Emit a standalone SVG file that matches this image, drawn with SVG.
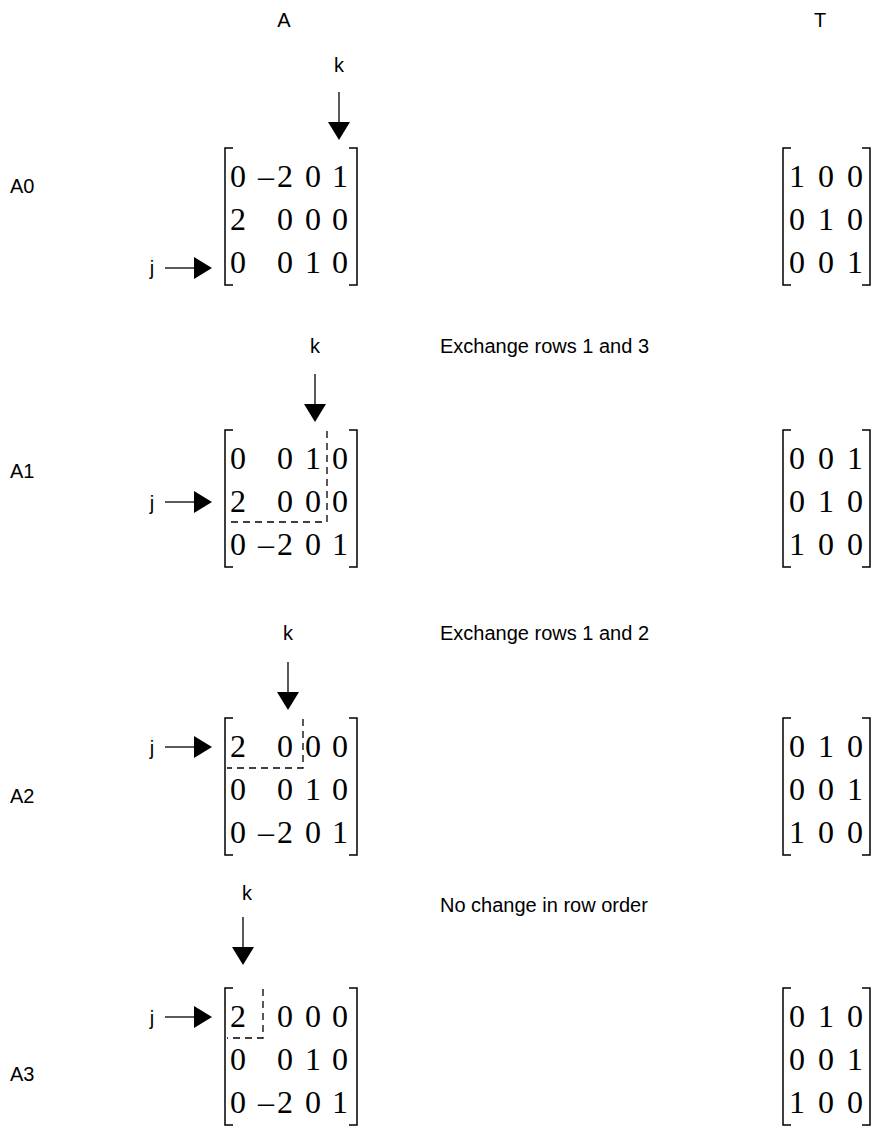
<svg xmlns="http://www.w3.org/2000/svg" width="874" height="1142" viewBox="0 0 874 1142">
<style>
.lbl{font-family:"Liberation Sans",Arial,sans-serif;font-size:20px;fill:#000}
.m{font-family:"Liberation Serif","Times New Roman",serif;font-size:32px;fill:#000;text-anchor:middle}
.br{fill:none;stroke:#000;stroke-width:1.5}
.ln{fill:none;stroke:#000;stroke-width:1.3}
.ds{fill:none;stroke:#000;stroke-width:1.3;stroke-dasharray:7,5}
.ah{fill:#000}
</style>
<defs>
<g id="brA"><path class="br" d="M233,0 H225 V137 H233"/><path class="br" d="M349,0 H357 V137 H349"/></g>
<g id="brT"><path class="br" d="M791,0 H783 V137 H791"/><path class="br" d="M862,0 H870 V137 H862"/></g>
<g id="kdown"><line class="ln" x1="0" y1="0" x2="0" y2="32"/><polygon class="ah" points="-11,30 11,30 0,48"/></g>
<g id="jright"><line class="ln" x1="0" y1="0" x2="32" y2="0"/><polygon class="ah" points="29,-11 29,11 47,0"/></g>
</defs>

<g id="headers">
<text class="lbl" x="284" y="27" text-anchor="middle">A</text>
<text class="lbl" x="820" y="27" text-anchor="middle">T</text>
</g>

<!-- A0 -->
<g id="A0">
<text class="lbl" x="10" y="193">A0</text>
<text class="lbl" x="339" y="72" text-anchor="middle">k</text>
<use href="#brA" y="148"/>
<text class="m" y="187"><tspan x="238">0</tspan><tspan x="266">–</tspan><tspan x="285">2</tspan><tspan x="313">0</tspan><tspan x="340">1</tspan></text>
<text class="m" y="230"><tspan x="238">2</tspan><tspan x="285">0</tspan><tspan x="313">0</tspan><tspan x="340">0</tspan></text>
<text class="m" y="273"><tspan x="238">0</tspan><tspan x="285">0</tspan><tspan x="313">1</tspan><tspan x="340">0</tspan></text>
<text class="lbl" x="152" y="275" text-anchor="middle">j</text>
</g>
<g id="T0">
<use href="#brT" y="148"/>
<text class="m" y="187"><tspan x="797">1</tspan><tspan x="826">0</tspan><tspan x="855">0</tspan></text>
<text class="m" y="230"><tspan x="797">0</tspan><tspan x="826">1</tspan><tspan x="855">0</tspan></text>
<text class="m" y="273"><tspan x="797">0</tspan><tspan x="826">0</tspan><tspan x="855">1</tspan></text>
</g>

<!-- A1 -->
<g id="A1">
<text class="lbl" x="10" y="478">A1</text>
<text class="lbl" x="315" y="353" text-anchor="middle">k</text>
<text class="lbl" x="440" y="353">Exchange rows 1 and 3</text>
<use href="#brA" y="430"/>
<text class="m" y="469"><tspan x="238">0</tspan><tspan x="285">0</tspan><tspan x="313">1</tspan><tspan x="340">0</tspan></text>
<text class="m" y="512"><tspan x="238">2</tspan><tspan x="285">0</tspan><tspan x="313">0</tspan><tspan x="340">0</tspan></text>
<text class="m" y="555"><tspan x="238">0</tspan><tspan x="266">–</tspan><tspan x="285">2</tspan><tspan x="313">0</tspan><tspan x="340">1</tspan></text>
<text class="lbl" x="152" y="510" text-anchor="middle">j</text>
<path class="ds" d="M327,431 V522 H227"/>
</g>
<g id="T1">
<use href="#brT" y="430"/>
<text class="m" y="469"><tspan x="797">0</tspan><tspan x="826">0</tspan><tspan x="855">1</tspan></text>
<text class="m" y="512"><tspan x="797">0</tspan><tspan x="826">1</tspan><tspan x="855">0</tspan></text>
<text class="m" y="555"><tspan x="797">1</tspan><tspan x="826">0</tspan><tspan x="855">0</tspan></text>
</g>

<!-- A2 -->
<g id="A2">
<text class="lbl" x="10" y="803">A2</text>
<text class="lbl" x="288" y="640" text-anchor="middle">k</text>
<text class="lbl" x="440" y="640">Exchange rows 1 and 2</text>
<use href="#brA" y="718"/>
<text class="m" y="757"><tspan x="238">2</tspan><tspan x="285">0</tspan><tspan x="313">0</tspan><tspan x="340">0</tspan></text>
<text class="m" y="800"><tspan x="238">0</tspan><tspan x="285">0</tspan><tspan x="313">1</tspan><tspan x="340">0</tspan></text>
<text class="m" y="843"><tspan x="238">0</tspan><tspan x="266">–</tspan><tspan x="285">2</tspan><tspan x="313">0</tspan><tspan x="340">1</tspan></text>
<text class="lbl" x="152" y="755" text-anchor="middle">j</text>
<path class="ds" d="M303,719 V768 H227"/>
</g>
<g id="T2">
<use href="#brT" y="718"/>
<text class="m" y="757"><tspan x="797">0</tspan><tspan x="826">1</tspan><tspan x="855">0</tspan></text>
<text class="m" y="800"><tspan x="797">0</tspan><tspan x="826">0</tspan><tspan x="855">1</tspan></text>
<text class="m" y="843"><tspan x="797">1</tspan><tspan x="826">0</tspan><tspan x="855">0</tspan></text>
</g>

<!-- A3 -->
<g id="A3">
<text class="lbl" x="10" y="1081">A3</text>
<text class="lbl" x="247" y="900" text-anchor="middle">k</text>
<text class="lbl" x="440" y="912">No change in row order</text>
<use href="#brA" y="988"/>
<text class="m" y="1027"><tspan x="238">2</tspan><tspan x="285">0</tspan><tspan x="313">0</tspan><tspan x="340">0</tspan></text>
<text class="m" y="1070"><tspan x="238">0</tspan><tspan x="285">0</tspan><tspan x="313">1</tspan><tspan x="340">0</tspan></text>
<text class="m" y="1113"><tspan x="238">0</tspan><tspan x="266">–</tspan><tspan x="285">2</tspan><tspan x="313">0</tspan><tspan x="340">1</tspan></text>
<text class="lbl" x="152" y="1025" text-anchor="middle">j</text>
<path class="ds" d="M263,989 V1038 H227"/>
</g>
<g id="T3">
<use href="#brT" y="988"/>
<text class="m" y="1027"><tspan x="797">0</tspan><tspan x="826">1</tspan><tspan x="855">0</tspan></text>
<text class="m" y="1070"><tspan x="797">0</tspan><tspan x="826">0</tspan><tspan x="855">1</tspan></text>
<text class="m" y="1113"><tspan x="797">1</tspan><tspan x="826">0</tspan><tspan x="855">0</tspan></text>
</g>

<g id="connectors">
<use href="#kdown" x="339" y="92"/>
<use href="#jright" x="165" y="268"/>
<use href="#kdown" x="315" y="374"/>
<use href="#jright" x="165" y="502"/>
<use href="#kdown" x="288" y="662"/>
<use href="#jright" x="165" y="747"/>
<use href="#kdown" x="243" y="917"/>
<use href="#jright" x="165" y="1017"/>
</g>
</svg>
